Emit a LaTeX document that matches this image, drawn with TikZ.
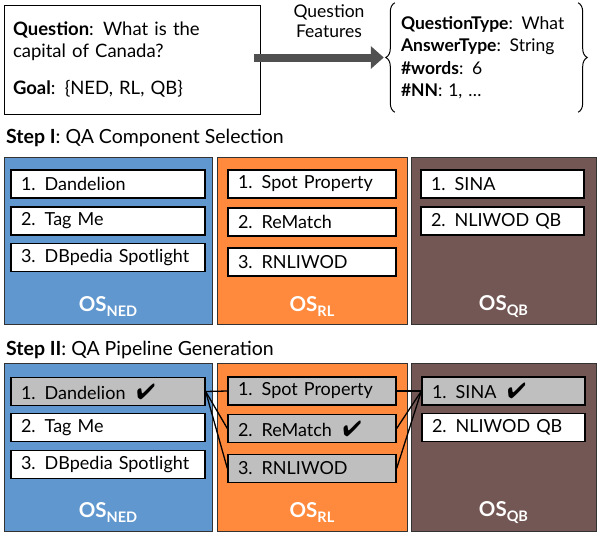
\documentclass[tikz,border=0pt]{standalone}
\usepackage{fontspec}
\setmainfont{Lato}
\usepackage{pifont}
\usetikzlibrary{positioning,arrows.meta,decorations.pathreplacing}
\definecolor{nedblue}{RGB}{97,151,207}
\definecolor{rlorange}{RGB}{255,138,61}
\definecolor{qbbrown}{RGB}{115,87,84}
\definecolor{pickgray}{RGB}{191,191,191}
\definecolor{arrowgray}{RGB}{80,80,80}
\newcommand{\oslab}[1]{OS\raisebox{-5pt}{\fontsize{14.5}{15}\selectfont #1}}
\newcommand{\tick}{\hspace{11pt}{\fontsize{22}{22}\selectfont\ding{52}}}

\begin{document}
\begin{tikzpicture}[
  x=1pt, y=-1pt,
  panel/.style={
    draw=black!80,
    line width=0.8pt,
    minimum height=167pt,
    inner sep=0pt
  },
  item/.style={
    draw,
    fill=white,
    line width=1.3pt,
    minimum height=28pt,
    inner xsep=10pt,
    inner ysep=0pt,
    text width=#1,
    align=left,
    font=\fontsize{18}{20}\selectfont
  },
  picked/.style={item=#1, fill=pickgray},
  oslabel/.style={
    text=white,
    font=\fontsize{20.5}{24}\selectfont\bfseries
  },
  stephead/.style={anchor=west, inner sep=0pt, font=\fontsize{19.5}{22}\selectfont},
  link/.style={line width=1.3pt}
]
\useasboundingbox (0,0) rectangle (600,536);

% Question and its features
\node[draw, line width=1pt, minimum width=256pt, minimum height=109pt,
      text width=238pt, inner xsep=9pt, align=left, font=\fontsize{18.5}{22}\selectfont] (question) at (132,59.5)
  {\textbf{Question}: What is the\\capital of Canada?\\[15pt]\textbf{Goal}: \{NED, RL, QB\}};
\node[minimum width=183pt, minimum height=109pt, text width=171pt, inner xsep=6pt,
      align=left, font=\fontsize{17.5}{22.5}\selectfont] (feat) at (486.5,57.5)
  {\textbf{QuestionType}: What\\\textbf{AnswerType}: String\\\textbf{\#words}: 6\\\textbf{\#NN}: 1, \dots};
\draw[decorate, decoration={brace, amplitude=9pt}, line width=1pt] (feat.south west) -- (feat.north west);
\draw[decorate, decoration={brace, amplitude=9pt}, line width=1pt] (feat.north east) -- (feat.south east);
\coordinate (arrowstart) at ([xshift=-7pt]question.east |- feat.west);
\draw[-{Triangle[length=13pt,width=22pt]}, line width=8pt, arrowgray]
  (arrowstart) -- ([xshift=-11pt]feat.west);
\node[align=center, font=\fontsize{17.5}{20}\selectfont] (featlabel) at (329,21.5) {Question\\Features};

% Step I
\node[stephead] (step1) at (6,138) {\textbf{Step I}: QA Component Selection};
\node[panel, fill=nedblue, minimum width=208pt] (ned1) at (108,240.5) {};
\node[panel, fill=rlorange, minimum width=190pt] (rl1) at (312,240.5) {};
\node[panel, fill=qbbrown, minimum width=185pt] (qb1) at (503.5,240.5) {};

\node[item=174pt] (ned1a) at (108,184) {1. Dandelion};
\node[item=174pt] (ned1b) at (108,221) {2. Tag Me};
\node[item=174pt] (ned1c) at (108,257.5) {3. DBpedia Spotlight};
\node[item=148pt] (rl1a) at (312,184) {1. Spot Property};
\node[item=148pt] (rl1b) at (312,222) {2. ReMatch};
\node[item=148pt] (rl1c) at (312,262) {3. RNLIWOD};
\node[item=143pt] (qb1a) at (502.5,184) {1. SINA};
\node[item=143pt] (qb1b) at (502.5,221) {2. NLIWOD QB};

\node[oslabel] (nedlab1) at (108,307) {\oslab{NED}};
\node[oslabel] (rllab1) at (312,307) {\oslab{RL}};
\node[oslabel] (qblab1) at (503.5,307) {\oslab{QB}};

% Step II
\node[stephead] (step2) at (6,350) {\textbf{Step II}: QA Pipeline Generation};
\node[panel, fill=nedblue, minimum width=208pt, minimum height=168pt] (ned2) at (108,447) {};
\node[panel, fill=rlorange, minimum width=190pt, minimum height=168pt] (rl2) at (312,447) {};
\node[panel, fill=qbbrown, minimum width=185pt, minimum height=168pt] (qb2) at (503.5,447) {};

\node[picked=174pt] (ned2a) at (108,391.5) {1. Dandelion\tick};
\node[item=174pt] (ned2b) at (108,427.5) {2. Tag Me};
\node[item=174pt] (ned2c) at (108,464.5) {3. DBpedia Spotlight};
\node[picked=148pt] (rl2a) at (312,391) {1. Spot Property};
\node[picked=148pt] (rl2b) at (312,428.5) {2. ReMatch\tick};
\node[picked=148pt] (rl2c) at (312,468.5) {3. RNLIWOD};
\node[picked=143pt] (qb2a) at (503.5,391) {1. SINA\tick};
\node[item=143pt] (qb2b) at (503.5,427.5) {2. NLIWOD QB};

\node[oslabel] (nedlab2) at (108,513) {\oslab{NED}};
\node[oslabel] (rllab2) at (312,513) {\oslab{RL}};
\node[oslabel] (qblab2) at (503.5,513) {\oslab{QB}};

% Pipelines
\draw[link] (ned2a.east) -- (rl2a.west);
\draw[link] (ned2a.east) -- (rl2b.west);
\draw[link] (ned2a.east) -- (rl2c.west);
\draw[link] (rl2a.east) -- (qb2a.west);
\draw[link] (rl2b.east) -- (qb2a.west);
\draw[link] (rl2c.east) -- (qb2a.west);

\end{tikzpicture}
\end{document}
